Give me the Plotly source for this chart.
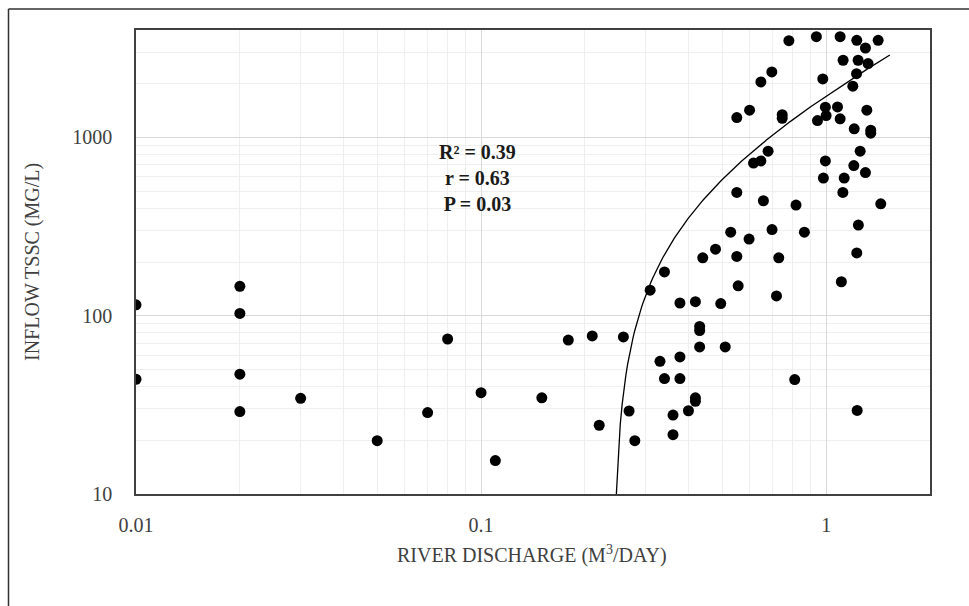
import numpy as np
import plotly.graph_objects as go

# ---- data ----
discharge = [0.01, 0.01, 0.02, 0.02, 0.02, 0.02, 0.03, 0.05, 0.07, 0.08,
             0.1, 0.11, 0.15, 0.179, 0.21, 0.22, 0.2585, 0.2685, 0.279, 0.309,
             0.34, 0.33, 0.34, 0.36, 0.36, 0.377, 0.377, 0.377, 0.399, 0.418,
             0.418, 0.418, 0.43, 0.43, 0.43, 0.439, 0.478, 0.495, 0.51, 0.529,
             0.551, 0.551, 0.556, 0.551, 0.598, 0.6, 0.616, 0.647, 0.647, 0.658,
             0.679, 0.696, 0.697, 0.718, 0.729, 0.746, 0.746, 0.78, 0.811, 0.818,
             0.865, 0.937, 0.944, 0.978, 0.982, 0.995, 0.995, 1.0, 1.079, 1.098,
             1.098, 1.107, 1.118, 1.12, 1.128, 1.195, 1.203, 1.206, 1.225, 1.227,
             1.227, 1.23, 1.238, 1.24, 1.255, 1.3, 1.3, 1.312, 1.323, 1.347,
             1.347, 1.415, 1.44]
tssc = [115, 44, 146, 103, 47, 29, 34.4, 19.9, 28.6, 74,
        37, 15.4, 34.6, 73, 77, 24.3, 76, 29.2, 19.9, 139,
        176, 55.5, 44.4, 27.7, 21.5, 117.8, 58.7, 44.4, 29.3, 119.8,
        34.6, 33.1, 87, 82.5, 66.8, 211, 236, 117, 66.8, 294,
        491, 215, 147, 1291, 269, 1420, 717, 738, 2046, 441,
        837, 2328, 304, 129, 211, 1340, 1280, 3485, 43.8, 417,
        294, 3669, 1242, 2127, 591, 1476, 738, 1324, 1482, 3669,
        1270, 155, 491, 2707, 591, 1936, 695, 1116, 2277, 3503,
        225, 29.4, 2707, 322, 837, 3170, 635, 1420, 2592, 1097,
        1056, 3503, 424]

x_tickvals = [0.01, 0.1, 1]
x_ticktext = ["0.01", "0.1", "1"]
y_tickvals = [10, 100, 1000]
y_ticktext = ["10", "100", "1000"]

stats_lines = ["R² = 0.39", "r = 0.63", "P = 0.03"]

# linear trend line y = slope * x + intercept (as drawn in the reference)
TREND_SLOPE = 2250.0
TREND_INTERCEPT = -545.0
TREND_X_END = 1.53

x_title = "RIVER DISCHARGE (M<sup>3</sup>/DAY)"
y_title = "INFLOW TSSC (MG/L)"

# ---- figure ----
W, H = 969, 606
ML, MR, MT, MB = 136, 39, 30, 112
PW, PH = W - ML - MR, H - MT - MB

def px_to_paper_x(px):
    return (px - ML) / PW

def py_to_paper_y(py):
    return (H - MB - py) / PH

font_family = "Liberation Serif, Times New Roman, serif"
text_color = "#404040"

x_start = (10 - TREND_INTERCEPT) / TREND_SLOPE
trend_x = np.linspace(x_start, TREND_X_END, 400)
trend_y = TREND_SLOPE * trend_x + TREND_INTERCEPT

fig = go.Figure()
fig.add_trace(go.Scatter(x=trend_x, y=trend_y, mode="lines",
                         line=dict(color="#000000", width=1.3),
                         hoverinfo="skip", showlegend=False))
fig.add_trace(go.Scatter(x=discharge, y=tssc, mode="markers",
                         marker=dict(color="#000000", size=11, line=dict(width=0)),
                         showlegend=False))

axis_common = dict(
    type="log",
    showline=True, linecolor="#404040", linewidth=1.5, mirror=True,
    showgrid=True, gridcolor="#d9d9d9", gridwidth=1,
    zeroline=False, ticks="",
    tickfont=dict(family=font_family, size=20, color=text_color),
    minor=dict(dtick="D1", showgrid=True, gridcolor="#efefef", gridwidth=1, ticks=""),
)

fig.update_xaxes(range=[-2, np.log10(2)], tickvals=x_tickvals, ticktext=x_ticktext,
                 ticklabelstandoff=12, **axis_common)
fig.update_yaxes(range=[1, np.log10(4000)], tickvals=y_tickvals, ticktext=y_ticktext,
                 ticklabelstandoff=18, **axis_common)

annotations = [
    dict(text="<br>".join(stats_lines), xref="paper", yref="paper",
         x=px_to_paper_x(477), y=py_to_paper_y(178), xanchor="center", yanchor="middle",
         showarrow=False, align="center",
         font=dict(family=font_family, size=20, color="#1a1a1a", weight="bold")),
    dict(text=x_title, xref="paper", yref="paper",
         x=px_to_paper_x(532), y=py_to_paper_y(554), xanchor="center", yanchor="middle",
         showarrow=False, font=dict(family=font_family, size=20, color=text_color)),
    dict(text=y_title, xref="paper", yref="paper", textangle=-90,
         x=px_to_paper_x(32), y=py_to_paper_y(262), xanchor="center", yanchor="middle",
         showarrow=False, font=dict(family=font_family, size=20, color=text_color)),
]

shapes = [
    dict(type="line", xref="paper", yref="paper",
         x0=px_to_paper_x(8.5), y0=py_to_paper_y(9), x1=px_to_paper_x(8.5), y1=py_to_paper_y(610),
         line=dict(color="#303030", width=1.5)),
    dict(type="line", xref="paper", yref="paper",
         x0=px_to_paper_x(8.5), y0=py_to_paper_y(9), x1=px_to_paper_x(975), y1=py_to_paper_y(9),
         line=dict(color="#303030", width=1.5)),
]

fig.update_layout(
    width=W, height=H,
    margin=dict(l=ML, r=MR, t=MT, b=MB),
    paper_bgcolor="#ffffff", plot_bgcolor="#ffffff",
    annotations=annotations, shapes=shapes,
    showlegend=False,
)

fig.write_html("out.html")
